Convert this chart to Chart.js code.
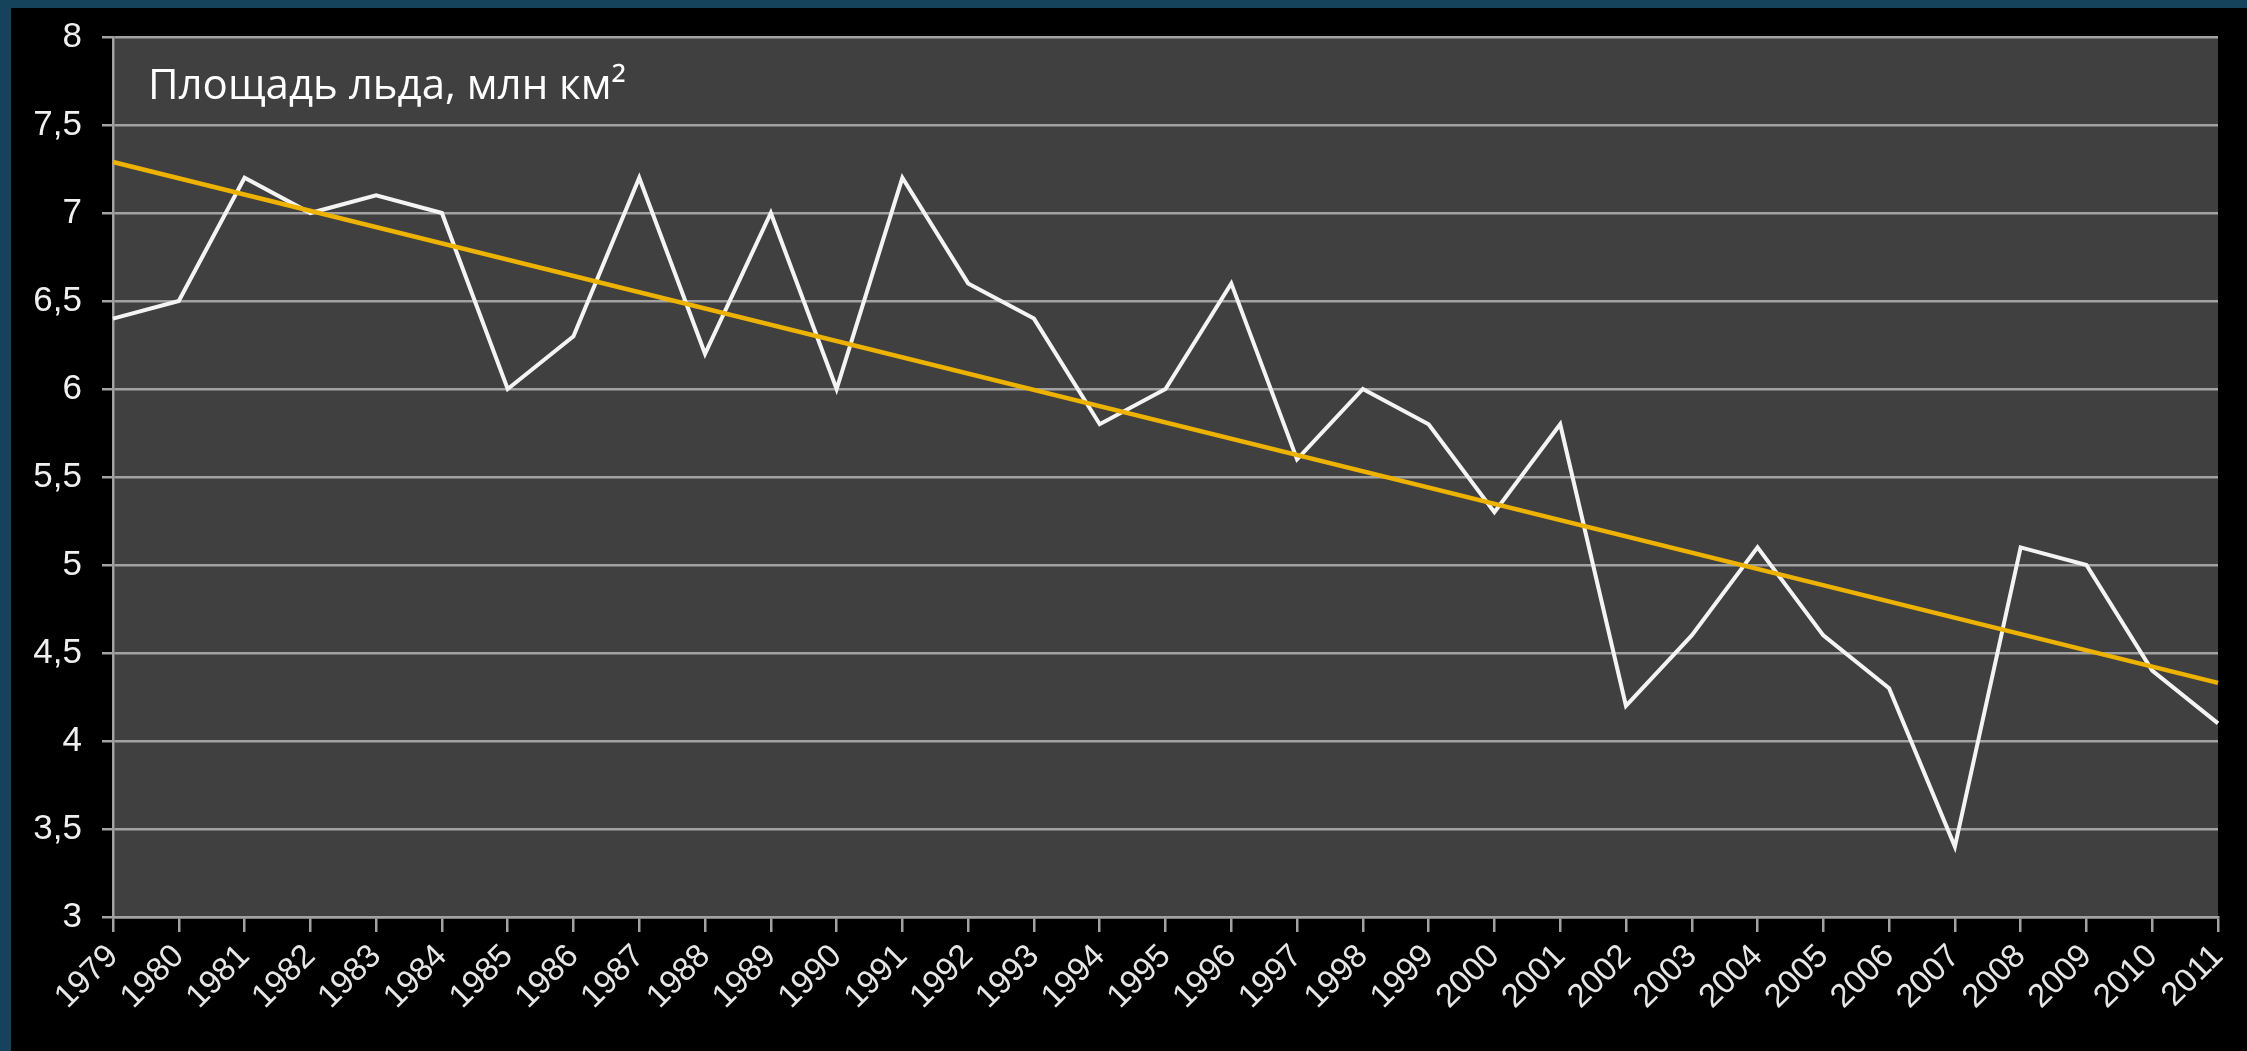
<!DOCTYPE html>
<html>
<head>
<meta charset="utf-8">
<script src="https://cdn.jsdelivr.net/npm/chart.js@4/dist/chart.umd.min.js"></script>
<style>
    html, body { margin: 0; padding: 0; background: #14435b; overflow: hidden; }
    #wrap { position: absolute; left: 11px; top: 8px; width: 2236px; height: 1043px; background: #000; }
</style>
</head>
<body>
<div id="wrap"><canvas id="iceChart"></canvas></div>
<script>
// Arctic sea ice area, million km2, 1979-2011
const years = ['1979', '1980', '1981', '1982', '1983', '1984', '1985', '1986', '1987', '1988',
    '1989', '1990', '1991', '1992', '1993', '1994', '1995', '1996', '1997', '1998',
    '1999', '2000', '2001', '2002', '2003', '2004', '2005', '2006', '2007', '2008',
    '2009', '2010', '2011'];
const iceArea = [6.4, 6.5, 7.2, 7.0, 7.1, 7.0, 6.0, 6.3, 7.2, 6.2,
    7.0, 6.0, 7.2, 6.6, 6.4, 5.8, 6.0, 6.6, 5.6, 6.0,
    5.8, 5.3, 5.8, 4.2, 4.6, 5.1, 4.6, 4.3, 3.4, 5.1,
    5.0, 4.4, 4.1];
// linear trend, start and end values
const trendYears = ['1979', '2011'];
const trendValues = [7.29, 4.33];
const yTickLabels = ['3', '3,5', '4', '4,5', '5', '5,5', '6', '6,5', '7', '7,5', '8'];
const chartTitle = 'Площадь льда, млн км²';

const gridColor = '#a2a2a2';

// dark plot area + caption
const plotBackground = {
    id: 'plotBackground',
    beforeDraw(chart) {
        const { ctx, chartArea } = chart;
        ctx.save();
        ctx.fillStyle = '#404040';
        ctx.fillRect(chartArea.left, chartArea.top, chartArea.right - chartArea.left, chartArea.bottom - chartArea.top);
        ctx.restore();
    },
    afterDraw(chart) {
        const ctx = chart.ctx;
        ctx.save();
        ctx.fillStyle = '#ffffff';
        ctx.font = '42px "Open Sans"';
        ctx.textBaseline = 'middle';
        ctx.fillText(chartTitle, 137, 79);
        ctx.restore();
    }
};

const ctx1 = document.getElementById('iceChart').getContext('2d');
const chart1 = new Chart(ctx1, {
    type: 'line',
    data: {
        labels: years,
        datasets: [{
            label: 'Тренд',
            data: trendYears.map((y, i) => ({ x: y, y: trendValues[i] })),
            borderColor: '#eeb200',
            borderWidth: 4.5,
            pointRadius: 0,
            tension: 0
        }, {
            label: 'Площадь льда',
            data: iceArea,
            borderColor: '#f4f4f4',
            borderWidth: 4,
            pointRadius: 0,
            tension: 0
        }]
    },
    options: {
        responsive: true,
        maintainAspectRatio: false,
        animation: false,
        layout: {
            padding: { left: 0, top: 29, right: 29, bottom: 0 }
        },
        plugins: {
            legend: { display: false },
            tooltip: { enabled: false }
        },
        scales: {
            x: {
                offset: false,
                afterFit: (scale) => {
                    scale.height = 134;
                    scale.paddingLeft = 0;
                    scale.paddingRight = 0;
                },
                grid: {
                    drawOnChartArea: false,
                    drawTicks: true,
                    tickLength: 15,
                    color: gridColor,
                    lineWidth: 2.5
                },
                border: { color: gridColor, width: 2.5 },
                ticks: {
                    color: '#e6e6e6',
                    font: { family: '"Liberation Sans", Arial', size: 33 },
                    autoSkip: false,
                    minRotation: 45,
                    maxRotation: 45,
                    padding: 5
                }
            },
            y: {
                min: 3,
                max: 8,
                afterFit: (scale) => {
                    scale.width = 102;
                    scale.paddingTop = 0;
                    scale.paddingBottom = 0;
                },
                grid: {
                    color: gridColor,
                    lineWidth: 2.5,
                    tickLength: 11
                },
                border: { color: gridColor, width: 2.5 },
                ticks: {
                    stepSize: 0.5,
                    color: '#f0f0f0',
                    font: { family: '"Liberation Sans", Arial', size: 35 },
                    padding: 20,
                    callback: (value) => yTickLabels[Math.round((value - 3) * 2)]
                }
            }
        }
    },
    plugins: [plotBackground]
});
</script>
</body>
</html>
